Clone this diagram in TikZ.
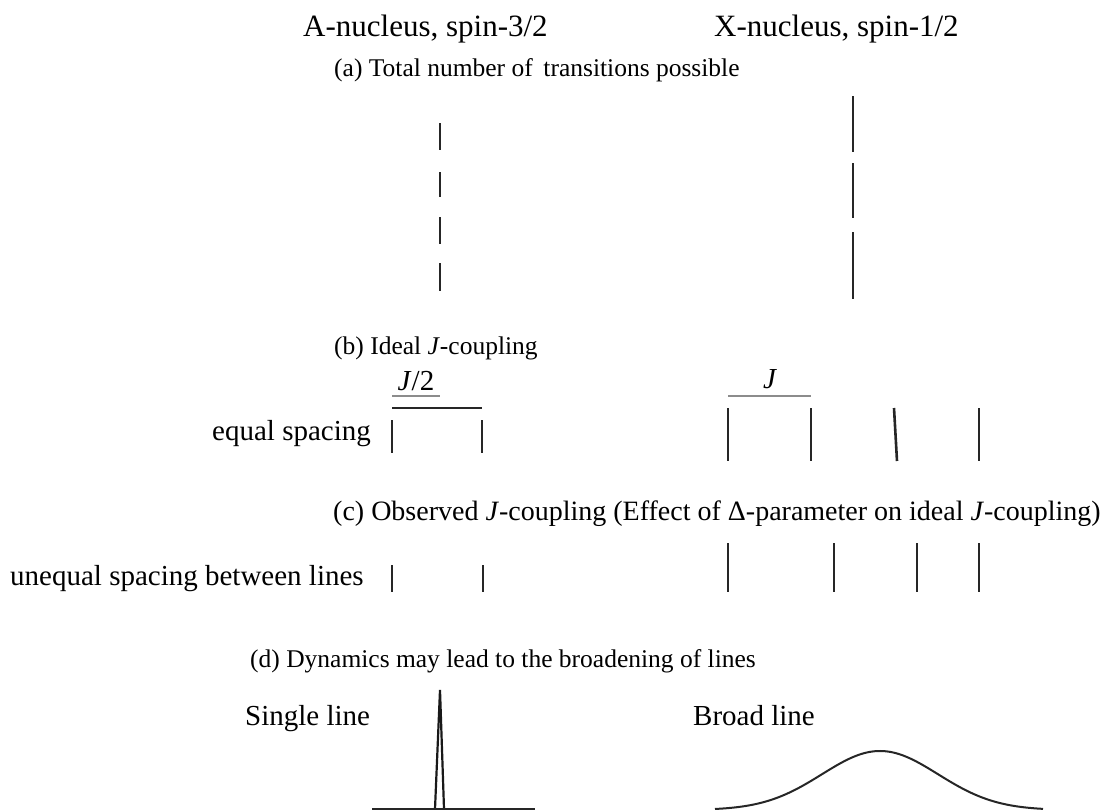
\documentclass[tikz,border=0pt]{standalone}
\usepackage{fontspec}
\setmainfont{Liberation Serif}
\usetikzlibrary{positioning}

\begin{document}
\begin{tikzpicture}[x=1pt,y=-1pt,font=\fontsize{29}{34}\selectfont,
    txt/.style={inner sep=0pt,anchor=base west},
    captxt/.style={txt,font=\fontsize{25.5}{31}\selectfont},
    headtxt/.style={txt,font=\fontsize{31}{36}\selectfont},
    trans/.style={line width=2.6pt,black!85},
    guide/.style={line width=1.6pt,black!45}]
  \useasboundingbox (0,0) rectangle (1106,811);
  % column heads
  \node[headtxt] (hdrA) at (303,36) {A-nucleus, spin-3/2};
  \node[headtxt] (hdrX) at (714,36) {X-nucleus, spin-1/2};
  % (a) all transitions
  \node[captxt] (capa) at (334,76) {(a) Total number of\, transitions possible};
  \foreach \ya/\yb in {123/150,172/197,217/244,263/291}
    \draw[trans] (440,\ya) -- (440,\yb);
  \foreach \ya/\yb in {96/152,163/218,232/299}
    \draw[trans] (853,\ya) -- (853,\yb);
  % (b) ideal J-coupling
  \node[captxt] (capb) at (334,354) {(b) Ideal \textit{J}-coupling};
  \node[inner sep=0pt,anchor=base] (halfJ) at (416,390) {\textit{J}/2};
  \draw[guide] (392,396) -- (440,396);
  \draw[trans] (392,408) -- (482,408);
  \node[inner sep=0pt,anchor=base] (fullJ) at (770,388) {\textit{J}};
  \draw[guide] (728,396) -- (811,396);
  \node[txt] (lblequal) at (212,440) {equal spacing};
  \foreach \xa in {392,482}
    \draw[trans] (\xa,420) -- (\xa,453);
  \foreach \xa/\xb in {728/728,811/811,894/897,979/979}
    \draw[trans] (\xa,408) -- (\xb,461);
  % (c) observed J-coupling
  \node[captxt,font=\fontsize{28}{33}\selectfont] (capc) at (333,520) {(c) Observed \textit{J}-coupling (Effect of Δ-parameter on ideal \textit{J}-coupling)};
  \node[txt] (lblunequal) at (10,585) {unequal spacing between lines};
  \foreach \xa in {392,483}
    \draw[trans] (\xa,565) -- (\xa,592);
  \foreach \xa in {728,834,917,979}
    \draw[trans] (\xa,543) -- (\xa,592);
  % (d) narrow and broad lines
  \node[captxt] (capd) at (250,667) {(d) Dynamics may lead to the broadening of lines};
  \node[txt] (lblsingle) at (245,725) {Single line};
  \node[txt] (lblbroad) at (693,725) {Broad line};
  \draw[line width=2.2pt,black!90,line join=miter] (435,809) -- (440,690) -- (444,809);
  \draw[line width=2pt,black!85] (372,809) -- (535,809);
  \draw[line width=2pt,black!85] plot[domain=715:1043,samples=120,smooth]
    (\x,{810-59*exp(-((\x-880)/58)*((\x-880)/58)/2)});
\end{tikzpicture}
\end{document}
